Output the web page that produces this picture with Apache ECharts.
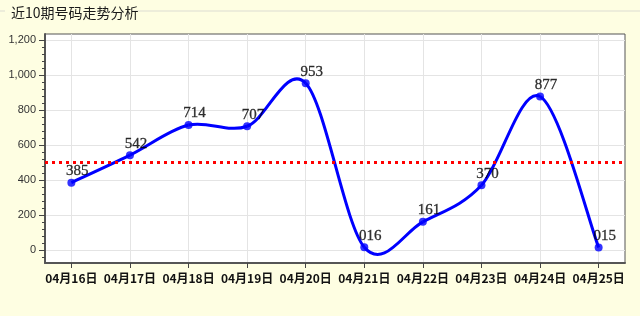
<!DOCTYPE html>
<html>
<head>
<meta charset="utf-8">
<script src="https://cdn.jsdelivr.net/npm/echarts@6/dist/echarts.min.js"></script>
<style>
html,body{margin:0;padding:0;background:#fefee2;}
#c{width:640px;height:316px;}
</style>
</head>
<body>
<div id="c"></div>
<script>
var categories = ['04月16日','04月17日','04月18日','04月19日','04月20日','04月21日','04月22日','04月23日','04月24日','04月25日'];
var values = [385, 542, 714, 707, 953, 16, 161, 370, 877, 15];
var labels = ['385','542','714','707','953','016','161','370','877','015'];
var yMajorTicks = [0, 200, 400, 600, 800, 1000, 1200];
var yMinorTicks = [-40, 40, 80, 120, 160, 240, 280, 320, 360, 440, 480, 520, 560, 640, 680, 720, 760, 840, 880, 920, 960, 1040, 1080, 1120, 1160];
var thresholdValue = 500;
var titleText = '近10期号码走势分析';

var xIdx = categories.map(function(_, i){ return i; });
var pts = values.map(function(v, i){ return [i, v]; });

var chart = echarts.init(document.getElementById('c'), null, {renderer:'canvas'});

function renderSpline(params, api) {
  var i = params.dataIndex;
  var n = values.length;
  if (i >= n - 1) return null;
  function P(k){ k = Math.max(0, Math.min(n - 1, k)); return api.coord([k, values[k]]); }
  var p0 = P(i - 1), p1 = P(i), p2 = P(i + 1), p3 = P(i + 2);
  var t = 1 / 6;
  return {
    type: 'bezierCurve',
    shape: {
      x1: p1[0], y1: p1[1], x2: p2[0], y2: p2[1],
      cpx1: p1[0] + (p2[0] - p0[0]) * t, cpy1: p1[1] + (p2[1] - p0[1]) * t,
      cpx2: p2[0] - (p3[0] - p1[0]) * t, cpy2: p2[1] - (p3[1] - p1[1]) * t
    },
    style: { stroke: '#0000ff', lineWidth: 3, fill: null }
  };
}

var option = {
  backgroundColor: '#fefee2',
  animation: false,
  title: {
    text: titleText, left: 6, top: 1,
    textStyle: { fontSize: 14, fontWeight: 'normal', color: '#1a1a1a', fontFamily: 'Noto Sans CJK SC' }
  },
  graphic: [
    { type: 'line', shape: { x1: 0, y1: 11, x2: 5, y2: 11 }, style: { stroke: '#dcdcd2', lineWidth: 1 } },
    { type: 'line', shape: { x1: 132, y1: 11, x2: 640, y2: 11 }, style: { stroke: '#dcdcd2', lineWidth: 1 } }
  ],
  grid: {
    left: 45, right: 15, top: 34, bottom: 53,
    show: true, backgroundColor: '#ffffff', borderColor: '#555', borderWidth: 1
  },
  xAxis: {
    type: 'value', min: -0.45, max: 9.45,
    axisLine: { show: true, onZero: false, lineStyle: { color: '#555', width: 2 } },
    axisTick: { show: true, customValues: xIdx, length: 5, lineStyle: { color: '#444' } },
    axisLabel: {
      customValues: xIdx, margin: 9,
      formatter: function(v){ return categories[Math.round(v)] || ''; },
      fontSize: 12, fontWeight: 'bold', color: '#111', fontFamily: 'Noto Sans CJK SC'
    },
    splitLine: { show: true, lineStyle: { color: '#e4e4e4', width: 1 } }
  },
  yAxis: [{
    type: 'value', min: -74, max: 1234,
    axisLine: { show: true, onZero: false, lineStyle: { color: '#555', width: 2 } },
    axisTick: { show: true, customValues: yMajorTicks, length: 6, lineStyle: { color: '#444' } },
    axisLabel: {
      customValues: yMajorTicks, margin: 9,
      formatter: function(v){ return v.toLocaleString('en-US'); },
      fontSize: 11, color: '#333', fontFamily: 'Liberation Sans'
    },
    splitLine: { show: true, lineStyle: { color: '#e4e4e4', width: 1 } }
  }, {
    type: 'value', min: -74, max: 1234, position: 'left',
    axisLine: { show: false, onZero: false },
    axisTick: { show: true, customValues: yMinorTicks, length: 3, lineStyle: { color: '#444' } },
    axisLabel: { show: false },
    splitLine: { show: false }
  }],
  series: [{
    type: 'custom',
    renderItem: renderSpline,
    data: pts,
    z: 3,
    silent: true
  }, {
    type: 'scatter',
    data: pts,
    symbol: 'circle', symbolSize: 8,
    itemStyle: { color: '#0000ff' },
    z: 4,
    label: {
      show: true, position: 'top', distance: 0, offset: [6, 0],
      formatter: function(p){ return labels[p.dataIndex]; },
      fontSize: 15, color: '#000', fontFamily: 'Liberation Serif',
      textBorderColor: '#000', textBorderWidth: 0.3
    },
    markLine: {
      silent: true, symbol: 'none', label: { show: false },
      lineStyle: { color: '#ff0000', width: 3, type: [3, 4] },
      data: [{ yAxis: thresholdValue }]
    }
  }]
};
chart.setOption(option);
</script>
</body>
</html>
